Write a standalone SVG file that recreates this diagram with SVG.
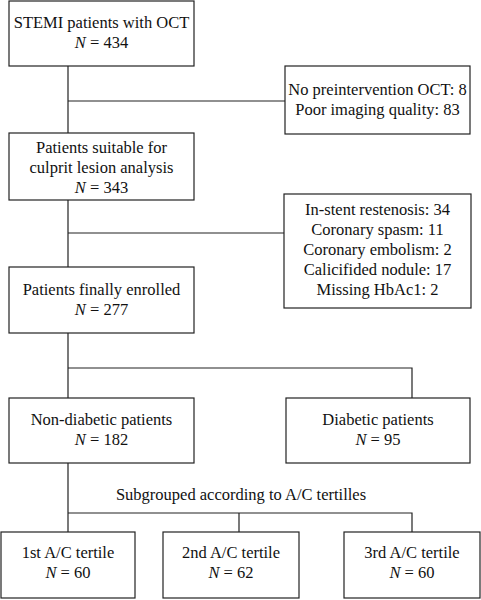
<svg xmlns="http://www.w3.org/2000/svg" width="481" height="600" viewBox="0 0 481 600">
<style>
.b{fill:#fff;stroke:#222;stroke-width:1.2}
.c{fill:none;stroke:#222;stroke-width:1.2}
text{font-family:"Liberation Serif",serif;font-size:16.5px;fill:#111;text-anchor:middle}
.i{font-style:italic}
</style>
<rect width="481" height="600" fill="#fff"/>
<g id="connectors">
<path class="c" d="M68 66V133M68 101H285M68 200V267M68 233H284M68 333V398M68 368H412V398M68 463V532M68 513H412V532M239 513V532"/>
</g>
<g id="n1"><rect class="b" x="9" y="1" width="185" height="65"/>
<text x="101.5" y="28">STEMI patients with OCT</text><text x="101.5" y="48"><tspan class="i">N</tspan> = 434</text></g>
<g id="e1"><rect class="b" x="285" y="66" width="185" height="68"/>
<text x="377.5" y="95">No preintervention OCT: 8</text><text x="377.5" y="115">Poor imaging quality: 83</text></g>
<g id="n2"><rect class="b" x="9" y="133" width="185" height="67"/>
<text x="101.5" y="153">Patients suitable for</text><text x="101.5" y="173">culprit lesion analysis</text><text x="101.5" y="193"><tspan class="i">N</tspan> = 343</text></g>
<g id="e2"><rect class="b" x="284" y="194" width="187" height="114"/>
<text x="377.5" y="215">In-stent restenosis: 34</text><text x="377.5" y="235">Coronary spasm: 11</text><text x="377.5" y="255">Coronary embolism: 2</text><text x="377.5" y="275">Calicifided nodule: 17</text><text x="377.5" y="295">Missing HbAc1: 2</text></g>
<g id="n3"><rect class="b" x="9" y="267" width="185" height="66"/>
<text x="101.5" y="295">Patients finally enrolled</text><text x="101.5" y="315"><tspan class="i">N</tspan> = 277</text></g>
<g id="n4"><rect class="b" x="9" y="398" width="185" height="65"/>
<text x="101.5" y="425">Non-diabetic patients</text><text x="101.5" y="445"><tspan class="i">N</tspan> = 182</text></g>
<g id="n5"><rect class="b" x="286" y="398" width="184" height="65"/>
<text x="378" y="425">Diabetic patients</text><text x="378" y="445"><tspan class="i">N</tspan> = 95</text></g>
<text x="241" y="500">Subgrouped according to A/C tertilles</text>
<g id="t1"><rect class="b" x="1" y="532" width="134" height="66"/>
<text x="68" y="558">1st A/C tertile</text><text x="68" y="578"><tspan class="i">N</tspan> = 60</text></g>
<g id="t2"><rect class="b" x="163" y="532" width="136" height="66"/>
<text x="231" y="558">2nd A/C tertile</text><text x="231" y="578"><tspan class="i">N</tspan> = 62</text></g>
<g id="t3"><rect class="b" x="344" y="532" width="136" height="66"/>
<text x="412" y="558">3rd A/C tertile</text><text x="412" y="578"><tspan class="i">N</tspan> = 60</text></g>
</svg>
